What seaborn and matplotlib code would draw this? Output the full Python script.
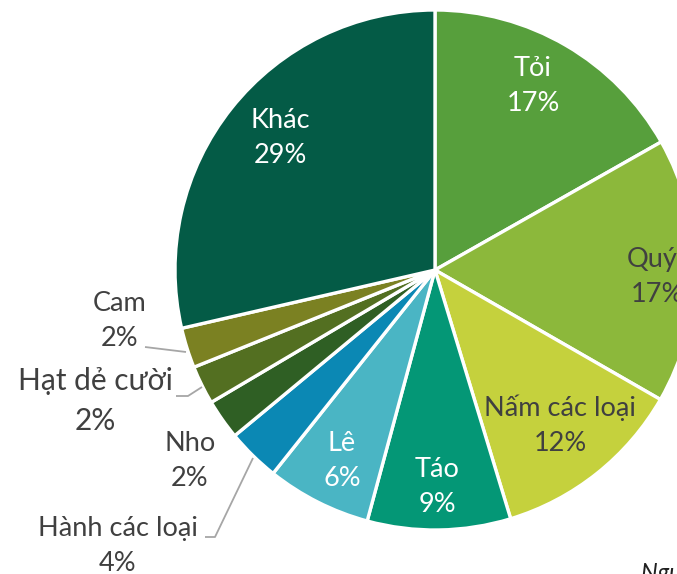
import seaborn as sns
from matplotlib import pyplot as plt

# share of each product (clockwise from the top)
labels = ["Tỏi", "Quýt", "Nấm các loại", "Táo", "Lê", "Hành các loại",
          "Nho", "Hạt dẻ cười", "Cam", "Khác"]
values = [16.8, 16.5, 12.0, 8.9, 6.5, 3.3, 2.5, 2.4, 2.5, 28.6]
pct_text = ["17%", "17%", "12%", "9%", "6%", "4%", "2%", "2%", "2%", "29%"]
colors = ["#579F3C", "#8CB83B", "#C5D13D", "#049776", "#4AB5C4", "#0B88B4",
          "#2F5F24", "#536F21", "#7B8122", "#045B46"]

sns.set_style("white")
plt.rcParams["font.family"] = ["Lato", "DejaVu Sans"]

W, H = 677, 574
fig = plt.figure(figsize=(W / 100, H / 100), dpi=100)
ax = fig.add_axes([0, 0, 1, 1])

# work in pixel units (y measured from the top)
cx, cy, r = 435, 270, 260
ax.pie(values, colors=colors, startangle=90, counterclock=False,
       center=(cx, H - cy), radius=r,
       wedgeprops=dict(edgecolor="white", linewidth=2.4))
ax.set_xlim(0, W)
ax.set_ylim(0, H)
ax.set_aspect("equal")
ax.axis("off")

def put(x, y, s, color, size=19.5):
    ax.text(x, H - y, s, ha="center", va="center", color=color,
            fontsize=size, linespacing=1.5)

# label spots (pixels)
pos = {
    "Tỏi": (533, 86, "white"),
    "Quýt": (657, 277, "#404040"),
    "Nấm các loại": (560, 425, "#404040"),
    "Táo": (437, 487, "white"),
    "Lê": (342, 461, "white"),
    "Khác": (280, 138, "white"),
    "Cam": (120, 321, "#404040"),
    "Hạt dẻ cười": (95, 401, "#404040"),
    "Nho": (190, 461, "#404040"),
    "Hành các loại": (118, 546, "#404040"),
}
for lab, p in zip(labels, pct_text):
    x, y, c = pos[lab]
    size = 21.5 if lab == "Hạt dẻ cười" else 19.5
    put(x, y, f"{lab}\n{p}", c, size)

# leader lines
leaders = [
    [(145, 347), (186, 352)],
    [(176, 396), (188, 396), (202, 387)],
    [(205, 537), (215, 537), (253, 458)],
]
for pts in leaders:
    ax.plot([p[0] for p in pts], [H - p[1] for p in pts],
            color="#A6A6A6", lw=1.3, solid_capstyle="butt")

ax.text(641, H - 562, "Nguồn: ", ha="left", va="top", color="#202020",
        fontsize=17, style="italic")

fig.savefig("out.png", dpi=100)
